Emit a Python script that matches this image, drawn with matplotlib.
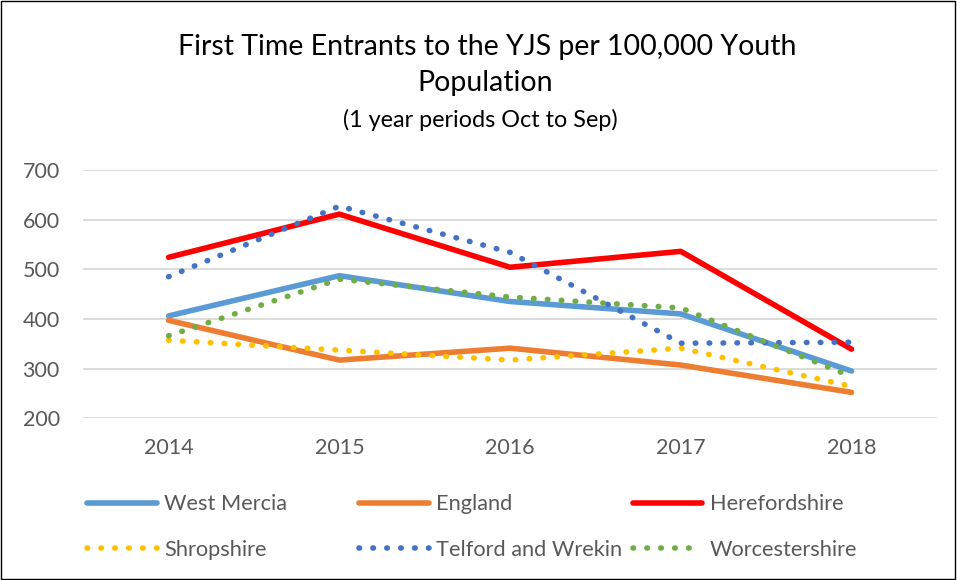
import matplotlib.pyplot as plt
from matplotlib.patches import Rectangle

plt.rcParams['font.family'] = ['Lato', 'DejaVu Sans']

years = ['2014', '2015', '2016', '2017', '2018']
west_mercia = [406, 487, 435, 410, 295]
england = [397, 317, 341, 307, 252]
herefordshire = [524, 611, 504, 536, 339]
shropshire = [357, 337, 317, 341, 264]
telford = [485, 627, 534, 351, 353]
worcestershire = [366, 480, 444, 422, 284]

grey = '#595959'
dot = (0, (0.1, 2.4))

fig = plt.figure(figsize=(9.57, 5.8), dpi=100)
ax = fig.add_axes([0.087, 0.279, 0.892, 0.428])
x = range(len(years))

l1, = ax.plot(x, west_mercia, color='#5B9BD5', lw=4, solid_capstyle='round', label='West Mercia')
l2, = ax.plot(x, england, color='#ED7D31', lw=4, solid_capstyle='round', label='England')
l3, = ax.plot(x, herefordshire, color='#FF0000', lw=4, solid_capstyle='round', label='Herefordshire')
l4, = ax.plot(x, shropshire, color='#FFC000', lw=4, ls=dot, dash_capstyle='round', label='Shropshire')
l5, = ax.plot(x, telford, color='#4472C4', lw=4, ls=dot, dash_capstyle='round', label='Telford and Wrekin')
l6, = ax.plot(x, worcestershire, color='#70AD47', lw=4, ls=dot, dash_capstyle='round', label='Worcestershire')

ax.set_xlim(-0.5, len(years) - 0.5)
ax.set_ylim(200, 700)
ax.set_yticks([200, 300, 400, 500, 600, 700])
ax.set_xticks(list(x))
ax.set_xticklabels(years)
ax.tick_params(length=0, labelsize=15.5, labelcolor=grey)
ax.tick_params(axis='x', pad=14)
ax.tick_params(axis='y', pad=17)
ax.grid(axis='y', color='#d9d9d9', lw=1.3)
ax.set_axisbelow(True)
for s in ax.spines.values():
    s.set_visible(False)

fig.text(0.509, 0.919, 'First Time Entrants to the YJS per 100,000 Youth',
         ha='center', va='center', fontsize=20.5, color='black')
fig.text(0.507, 0.857, 'Population', ha='center', va='center', fontsize=20.5, color='black')
fig.text(0.502, 0.793, '(1 year periods Oct to Sep)', ha='center', va='center', fontsize=16.8, color='black')

cols = [([l1, l4], 0.091), ([l2, l5], 0.375), ([l3, l6], 0.661)]
for handles, xpos in cols:
    leg = fig.legend(handles=handles, loc='upper left', bbox_to_anchor=(xpos, 0.148),
                     frameon=False, fontsize=15.7, handlelength=3.2, handletextpad=0.35,
                     labelspacing=1.18, borderpad=0, borderaxespad=0)
    for t in leg.get_texts():
        t.set_color(grey)

fig.add_artist(Rectangle((0.001, 0.002), 0.997, 0.996, transform=fig.transFigure,
                         fill=False, edgecolor='black', lw=1))

fig.savefig('out.png', dpi=100)
